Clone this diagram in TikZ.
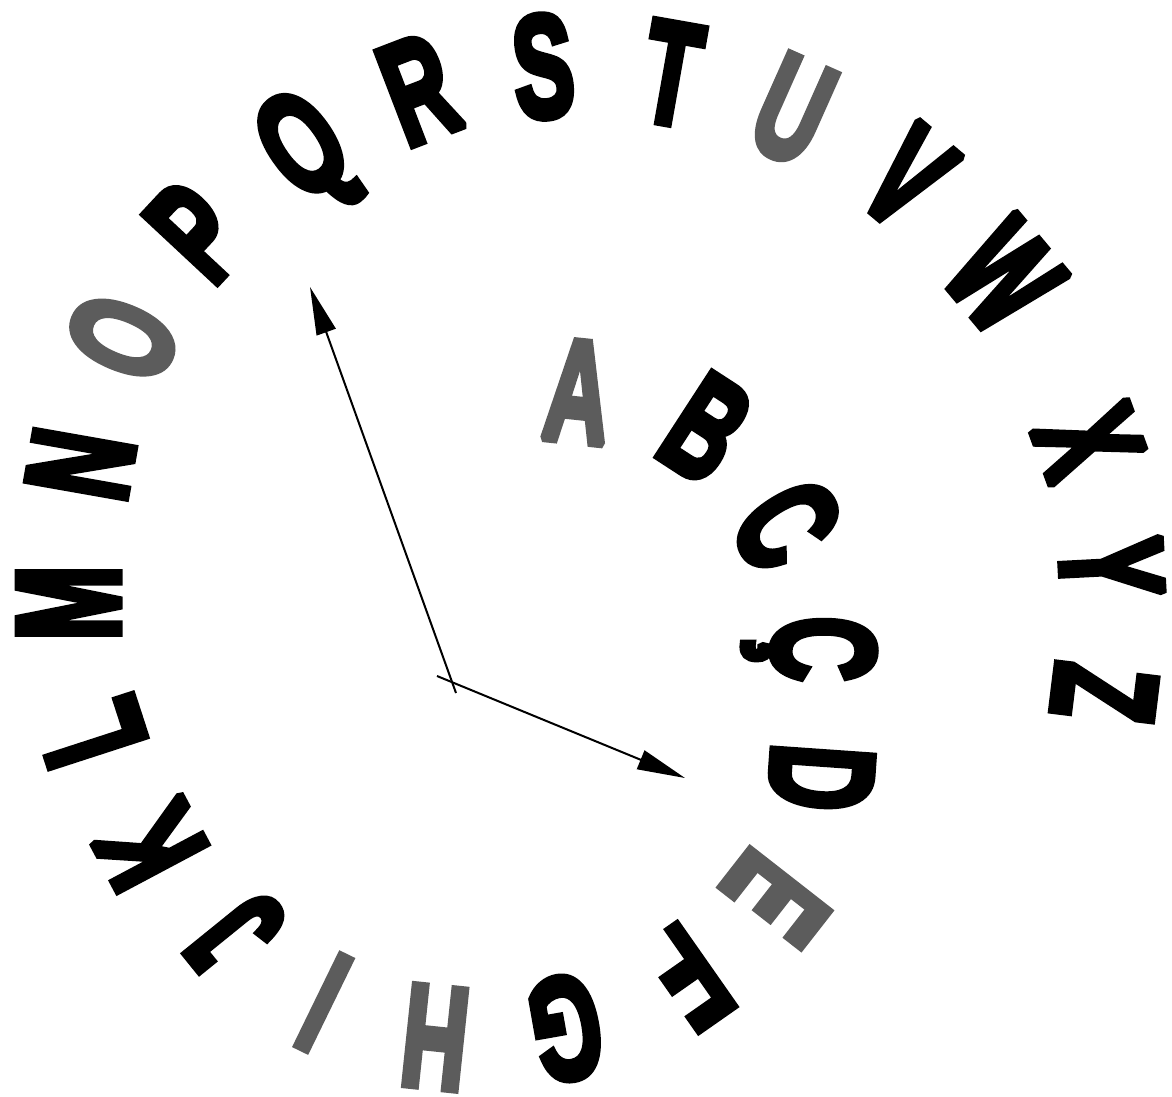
\documentclass[tikz,border=0pt]{standalone}
\usepackage{fontspec}
\usepackage{graphicx}
\usetikzlibrary{arrows.meta}
\newfontfamily\letterfont{Liberation Sans}[BoldFeatures={FakeBold=5.5}]
\definecolor{vowel}{gray}{0.36}
\newcommand{\lettr}[1]{\scalebox{0.62}[1]{#1}}
\begin{document}
\begin{tikzpicture}[x=1pt,y=-1pt]
\tikzset{
  lt/.style={inner sep=0pt, outer sep=0pt, anchor=center, text height=103pt, text depth=0pt,
    line join=miter, miter limit=1.6,
    font=\letterfont\bfseries\fontsize{145}{150}\selectfont, text=black},
  vw/.style={lt, text=vowel},
  arr/.style={line width=2pt, draw=black, line join=miter, miter limit=10, -{Triangle[length=48pt,width=20pt]}}
}
\useasboundingbox (0,0) rectangle (1172,1097);
\fill[white] (0,0) rectangle (1172,1097);
% letters
\node[vw, rotate=-6]  (A) at (578,390) {\lettr{A}};
\node[lt, rotate=-33] (B) at (707,427) {\lettr{B}};
\node[lt, rotate=-58] (C) at (788,524) {\lettr{C}};
\node[lt, rotate=-90] (Cc) at (825,649) {\lettr{Ç}};
\node[lt, rotate=-94] (D) at (823,778) {\lettr{D}};
\node[vw, rotate=-128] (E) at (777,899) {\lettr{E}};
\node[lt, rotate=-145] (F) at (690,978) {\lettr{F}};
\node[lt, rotate=-170] (G) at (566,1030) {\lettr{G}};
\node[vw, rotate=174] (H) at (435,1039) {\lettr{H}};
\node[vw, rotate=154] (I) at (323,1004) {\lettr{I}};
\node[lt, rotate=129] (J) at (234,937) {\lettr{J}};
\node[lt, rotate=118] (K) at (149,846) {\lettr{K}};
\node[lt, rotate=108] (L) at (90,733) {\lettr{L}};
\node[lt, rotate=90] (M) at (67,603) {\lettr{M}};
\node[lt, rotate=80] (N) at (79,464) {\lettr{N}};
\node[vw, rotate=67] (O) at (121,337) {\lettr{O}};
\node[lt, rotate=47] (P) at (195,231) {\lettr{P}};
\node[lt, rotate=35] (Q) at (300,142) {\lettr{Q}};
\node[lt, rotate=21] (R) at (418,88) {\lettr{R}};
\node[lt, rotate=5] (S) at (543,65) {\lettr{S}};
\node[lt, rotate=-10] (T) at (672,72) {\lettr{T}};
\node[vw, rotate=-24] (U) at (794,108) {\lettr{U}};
\node[lt, rotate=-40] (V) at (909,176) {\lettr{V}};
\node[lt, rotate=-50] (W) at (1005,275) {\lettr{W}};
\node[lt, rotate=-70] (X) at (1090,441) {\lettr{X}};
\node[lt, rotate=-87] (Y) at (1113,567) {\lettr{Y}};
\node[lt, rotate=-97] (Z) at (1106,693) {\lettr{Z}};
% arrows
\coordinate (s1) at (456,693);
\coordinate (t1) at (310,287);
\coordinate (s2) at (437,676);
\coordinate (t2) at (685,778);
\draw[arr] (s1) -- (t1);
\draw[arr] (s2) -- (t2);
\end{tikzpicture}
\end{document}
